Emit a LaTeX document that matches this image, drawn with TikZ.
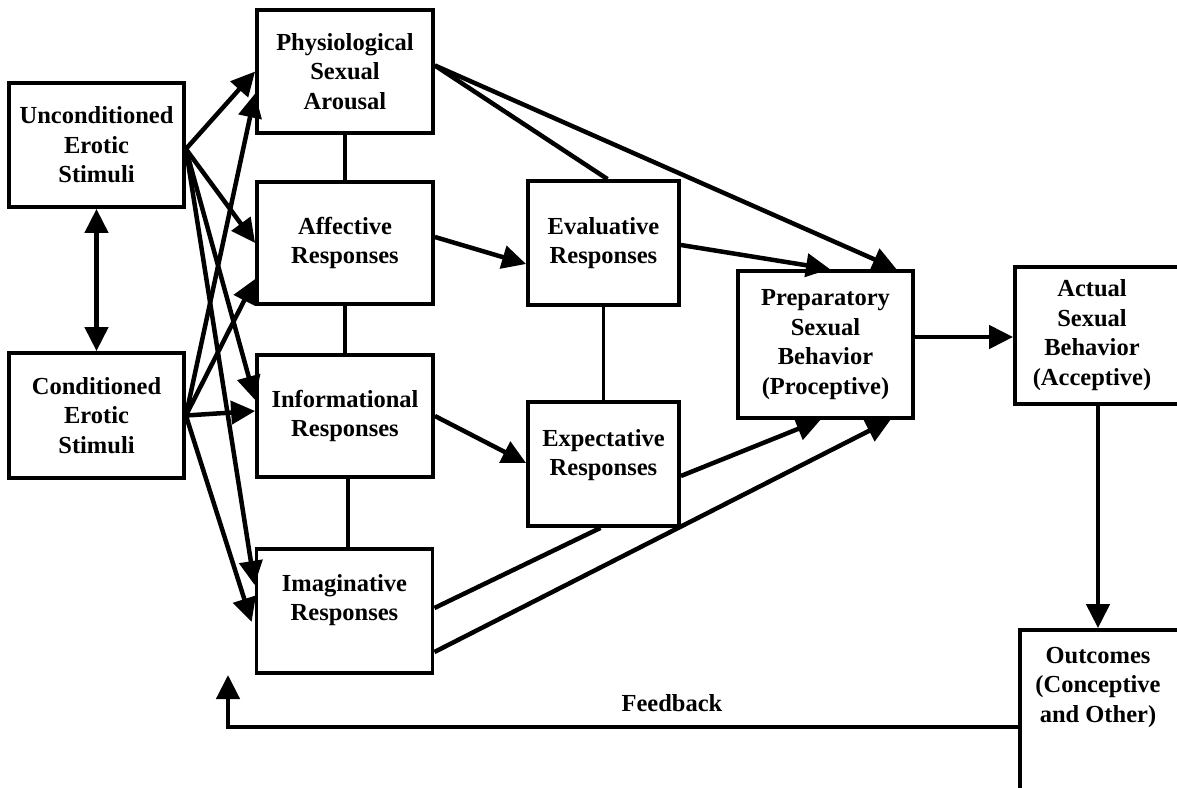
\documentclass[tikz,border=0pt]{standalone}
\usepackage{fontspec}
\setmainfont{Liberation Serif}
\usetikzlibrary{arrows.meta,calc}
\begin{document}
\begin{tikzpicture}[x=1pt,y=-1pt,
  lbl/.style={align=center, inner sep=0pt, font=\fontsize{24.5}{29.5}\selectfont\bfseries},
  box/.style={lbl, draw, line width=3.8pt},
  conn/.style={line width=4.5pt},
  arr/.style={conn, -{Triangle[length=24pt,width=23pt]}},
  dbl/.style={conn, {Triangle[length=24pt,width=23pt]}-{Triangle[length=24pt,width=23pt]}},
  link/.style={line width=3.2pt}
]
\clip (0,0) rectangle (1177,787);
\fill[white] (0,0) rectangle (1177,787);

% stimuli
\node[box, minimum width=175pt, minimum height=124pt] (unc) at (96.5,145) {Unconditioned\\Erotic\\Stimuli};
\node[box, minimum width=175pt, minimum height=125pt] (con) at (96.5,415.5) {Conditioned\\Erotic\\Stimuli};

% first-level responses
\node[box, minimum width=176pt, minimum height=123pt] (phy) at (345,71.5) {Physiological\\Sexual\\Arousal};
\node[box, minimum width=176pt, minimum height=122pt] (aff) at (345,243) {Affective\\Responses};
\node[box, minimum width=176pt, minimum height=122pt] (inf) at (345,416) {Informational\\Responses};
\node[box, minimum width=176pt, minimum height=124pt] (ima) at (344.5,611) {};
\node[lbl] (imat) at (344.5,600) {Imaginative\\Responses};

% second-level responses
\node[box, minimum width=151pt, minimum height=124pt] (eva) at (603.5,243) {Evaluative\\Responses};
\node[box, minimum width=151pt, minimum height=124pt] (exp) at (603.5,464) {};
\node[lbl] (expt) at (603.5,455) {Expectative\\Responses};

% behaviour
\node[box, minimum width=175pt, minimum height=147pt] (pre) at (825.5,344.5) {Preparatory\\Sexual\\Behavior\\(Proceptive)};
\node[box, minimum width=175pt, minimum height=137pt] (act) at (1102.5,335.5) {};
\node[lbl] (actt) at (1092,335) {Actual\\Sexual\\Behavior\\(Acceptive)};
\node[box, minimum width=180pt, minimum height=194pt] (out) at (1110,727) {};
\node[lbl] (outt) at (1098,687) {Outcomes\\(Conceptive\\and Other)};

% undirected links
\draw[link] (phy.south) -- (aff.north);
\draw[link] (aff.south) -- (inf.north);
\draw[link] ($(inf.south)+(3,0)$) -- ($(ima.north)+(3.5,0)$);
\draw[link] (eva.south) -- (exp.north);

\draw[dbl] (unc.south) -- (con.south |- con.north);

% stimuli to responses
\draw[arr] ($(unc.east)+(0,4)$) -- (phy.west);
\draw[arr] ($(unc.east)+(0,4)$) -- (aff.west);
\draw[arr] ($(unc.east)+(0,4)$) -- ($(inf.west)+(0,-16)$);
\draw[arr] ($(unc.east)+(0,4)$) -- ($(ima.west)+(0,-26)$);
\draw[arr] (con.east) -- ($(phy.west)+(0,22)$);
\draw[arr] (con.east) -- ($(aff.west)+(0,36)$);
\draw[arr] (con.east) -- ($(inf.west)+(0,-5)$);
\draw[arr] (con.east) -- ($(ima.west)+(-3,11)$);

% responses onward
\draw[conn] ($(phy.east)+(0,-6)$) -- ($(eva.north)+(4,0)$);
\draw[arr] ($(phy.east)+(0,-6)$) -- ($(pre.north)+(71,0)$);
\draw[arr] ($(aff.east)+(0,-6)$) -- ($(eva.west)+(0,21)$);
\draw[arr] ($(eva.east)+(0,2)$) -- ($(pre.north)+(4.5,0)$);
\draw[arr] (inf.east) -- ($(exp.west)+(0,-1)$);
\draw[arr] ($(exp.east)+(0,12)$) -- ($(pre.south)+(-5,0)$);
\draw[conn] ($(ima.east)+(0,-3)$) -- ($(exp.south)+(-3,0)$);
\draw[arr] ($(ima.east)+(0,41)$) -- ($(pre.south)+(65,0)$);

% behaviour chain
\draw[arr] ($(pre.east)+(0,-7.5)$) -- ($(act.west)+(0,1.5)$);
\draw[arr] ($(act.south)+(-4.5,0)$) -- ($(out.north)+(-12,0)$);

% feedback loop
\coordinate (fbend) at (228,675);
\draw[arr] (out.west) -| (fbend);
\node[lbl] (fbt) at (672,703) {Feedback};
\end{tikzpicture}
\end{document}
